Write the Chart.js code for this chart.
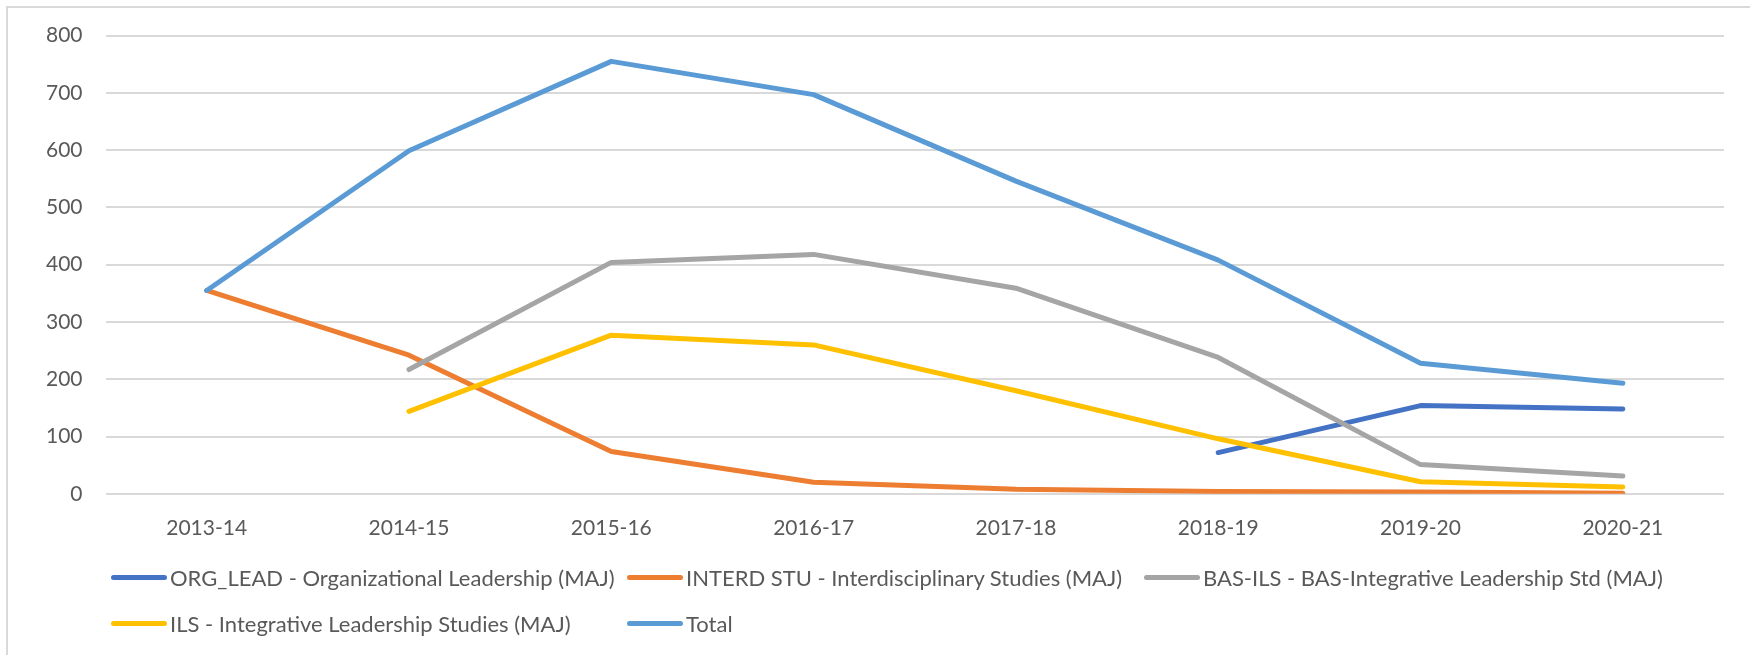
<!DOCTYPE html>
<html>
<head>
<meta charset="utf-8">
<script src="https://cdn.jsdelivr.net/npm/chart.js@4"></script>
<style>
  body { margin: 0; background: #fff; }
  #wrap { position: relative; width: 1750px; height: 655px; overflow: hidden; }
  #frame { position: absolute; left: 6px; top: 6px; width: 1760px; height: 700px;
           border-top: 2px solid #d9d9d9; border-left: 2px solid #d9d9d9; box-sizing: border-box; }
  #chart-box { position: absolute; left: 0; top: 0; width: 1750px; height: 655px; }
  .legend-item { position: absolute; height: 30px; display: flex; align-items: center;
                 font-family: Lato, sans-serif; font-size: 22px; color: #595959; white-space: nowrap; }
  .legend-line { width: 56px; height: 5px; border-radius: 3px; margin-right: 3px; }
</style>
</head>
<body>
<div id="wrap">
  <div id="frame"></div>
  <div id="chart-box"><canvas id="trend-chart"></canvas></div>
  <div id="legend"></div>
</div>
<script>
// Dữ liệu
const years = ['2013-14', '2014-15', '2015-16', '2016-17', '2017-18', '2018-19', '2019-20', '2020-21'];
const orgLead = [null, null, null, null, null, 72, 154, 148];
const interdStu = [355, 242, 74, 20, 8, 4, 3, 1];
const basIls = [null, 217, 404, 418, 359, 238, 51, 31];
const ils = [null, 144, 277, 260, 180, 96, 21, 12];
const total = [355, 599, 755, 697, 546, 408, 228, 193];

const seriesNames = [
    'ORG_LEAD - Organizational Leadership (MAJ)',
    'INTERD STU - Interdisciplinary Studies (MAJ)',
    'BAS-ILS - BAS-Integrative Leadership Std (MAJ)',
    'ILS - Integrative Leadership Studies (MAJ)',
    'Total'
];
const seriesColors = ['#4472C4', '#ED7D31', '#A5A5A5', '#FFC000', '#5B9BD5'];
const seriesData = [orgLead, interdStu, basIls, ils, total];

const yTicks = [0, 100, 200, 300, 400, 500, 600, 700, 800];

Chart.defaults.font.family = 'Lato, sans-serif';
Chart.defaults.font.size = 21;
Chart.defaults.color = '#595959';

const ctx = document.getElementById('trend-chart').getContext('2d');
const trendChart = new Chart(ctx, {
    type: 'line',
    data: {
        labels: years,
        datasets: seriesData.map((d, i) => ({
            label: seriesNames[i],
            data: d,
            borderColor: seriesColors[i],
            backgroundColor: seriesColors[i],
            borderWidth: 5,
            borderCapStyle: 'round',
            borderJoinStyle: 'round',
            pointRadius: 0,
            tension: 0,
            spanGaps: false,
            order: seriesData.length - 1 - i // series sau vẽ đè lên
        }))
    },
    options: {
        responsive: true,
        maintainAspectRatio: false,
        animation: false,
        layout: { padding: { left: 23, right: 26, top: 35, bottom: 100 } },
        plugins: {
            legend: { display: false },
            tooltip: { enabled: false }
        },
        scales: {
            x: {
                offset: true,
                grid: { display: false },
                border: { display: false },
                ticks: { padding: 14, maxRotation: 0 }
            },
            y: {
                min: 0,
                max: 800,
                afterBuildTicks: axis => { axis.ticks = yTicks.map(v => ({ value: v })); },
                grid: { color: '#d9d9d9', lineWidth: 2, drawTicks: false },
                border: { display: false },
                ticks: { padding: 23 }
            }
        }
    }
});

// Chú thích kiểu Excel (theo cột)
const legendPos = [[111, 577], [627, 577], [1144, 577], [111, 623], [627, 623]];
const legendEl = document.getElementById('legend');
seriesNames.forEach((name, i) => {
    const item = document.createElement('div');
    item.className = 'legend-item';
    item.style.left = legendPos[i][0] + 'px';
    item.style.top = (legendPos[i][1] - 15) + 'px';
    const line = document.createElement('span');
    line.className = 'legend-line';
    line.style.background = seriesColors[i];
    const txt = document.createElement('span');
    txt.textContent = name;
    item.appendChild(line);
    item.appendChild(txt);
    legendEl.appendChild(item);
});
</script>
</body>
</html>
